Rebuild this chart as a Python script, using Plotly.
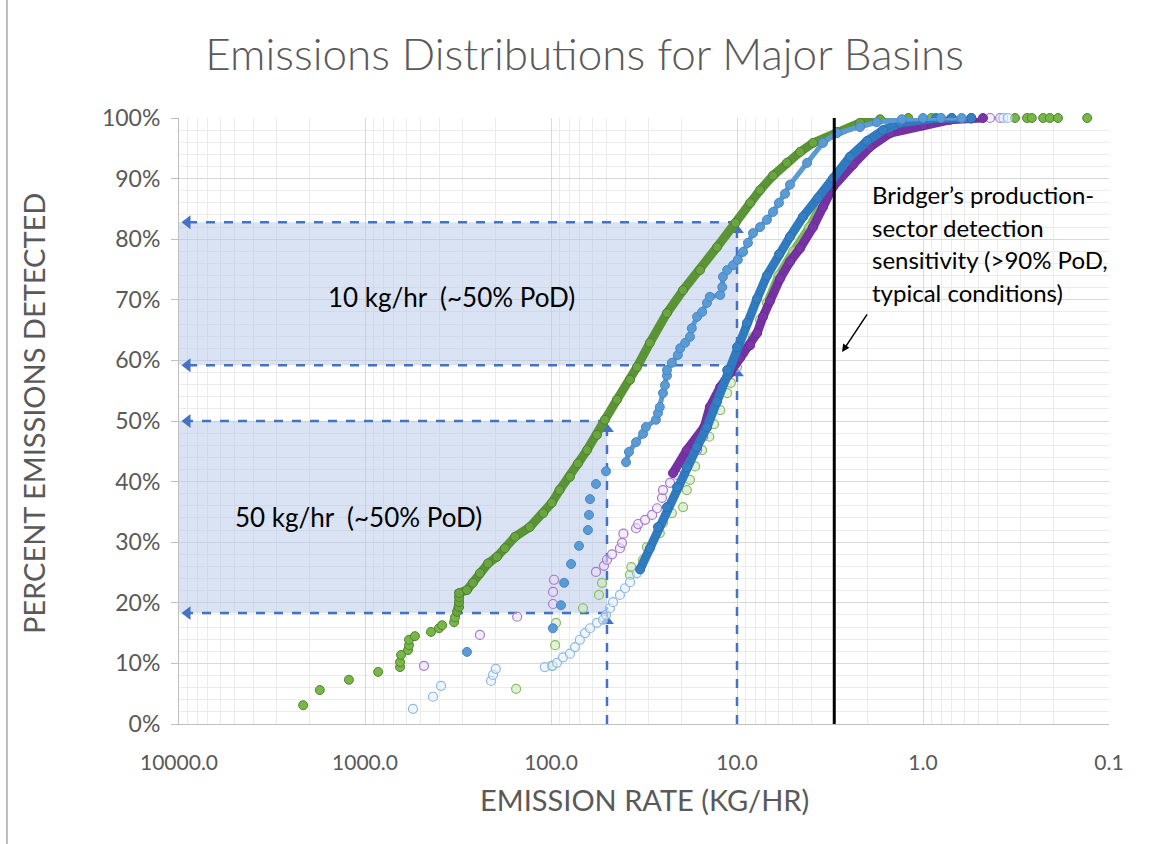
import plotly.graph_objects as go

# ---------------- data (kg/hr, percent detected) ----------------
# green (filled) basin
green_sparse_x = [2150, 1750, 1220, 850, 648, 648, 640, 587, 580, 580, 539, 442, 400, 385, 332, 328]
green_sparse_y = [3.1, 5.6, 7.3, 8.6, 9.4, 10.2, 11.4, 12.2, 13.0, 13.9, 14.5, 15.2, 15.8, 16.3, 16.8, 17.6]
green_dense_x = [320, 312, 312, 312, 312, 283, 263, 241, 218, 195, 177, 156, 130, 110, 99, 90, 79, 71.6, 64,
                 56.6, 51.3, 44.2, 37.6, 34.5, 29.4, 23.8, 19.5, 15.8, 12.8, 10.2, 8.5, 7.52, 6.4, 5.39, 4.58,
                 3.9, 2.9, 2.18, 1.7, 1.2]
green_dense_y = [18.5, 19.3, 20.1, 20.9, 21.6, 22.1, 23.3, 24.9, 26.5, 27.6, 29.0, 30.9, 32.5, 34.8, 36.5, 38.6,
                 40.8, 43.0, 45.2, 47.7, 50.2, 53.5, 56.8, 58.9, 62.9, 67.8, 71.6, 74.9, 78.7, 82.7, 86.0, 88.1,
                 90.5, 92.6, 94.4, 95.9, 97.7, 99.2, 99.8, 100]
green_top_x = [0.9, 0.7, 0.55, 0.32, 0.276, 0.26, 0.226, 0.208, 0.188, 0.131]
green_top_y = [100, 100, 100, 100, 100, 100, 100, 100, 100, 100]

# light green (hollow) basin
lgreen_x = [154, 99, 95, 94, 67.3, 55.2, 53.2, 37.6, 37, 32, 30.5, 26, 25, 22.4, 19.5, 18.6, 17.9, 16.8, 15.4,
            14.1, 13.3, 12.3, 11.3, 10.8, 10, 9.28, 8.2, 7.52, 6.9]
lgreen_y = [5.8, 9.6, 13.0, 16.7, 19.1, 21.3, 23.3, 24.6, 25.9, 27.1, 29.2, 31.5, 33.2, 34.8, 35.8, 38.6, 40.3,
            42.5, 45.2, 47.4, 49.5, 51.8, 54.6, 56.3, 58.9, 61.2, 63.9, 66.7, 69.5]
lgreen_up_x = [6.9, 6.0, 5.0, 4.1, 3.5, 3.1, 2.5, 2.0, 1.55, 1.1, 0.8]
lgreen_up_y = [69.5, 74.0, 78.0, 82.0, 86.0, 89.0, 92.5, 95.0, 97.5, 99.0, 100]

# medium blue (filled) basin
blue_sparse_x = [283, 97.7, 88.4, 85, 78, 70.7, 63.3, 62.5, 61.7, 57.3, 50.6]
blue_sparse_y = [11.9, 15.8, 19.6, 23.3, 26.4, 29.4, 32.0, 34.5, 37.1, 39.6, 41.7]
blue_dense_x = [39.5, 38.1, 34.9, 32, 30.9, 27.3, 26.6, 26, 25, 24.4, 23.8, 23.8, 22.4, 20.8, 20.2, 19, 17.9,
                17.5, 16.4, 15.4, 14.5, 14, 12.3, 12, 11.9, 11.3, 10.5, 9.9, 9.28, 8.73, 8.2, 7.52, 6.9, 6.4,
                5.95, 5.52, 5.19, 4.2, 3.45, 2.9, 2.18, 1.77, 1.3, 1.0, 0.8, 0.62]
blue_dense_y = [43.2, 44.9, 46.5, 47.9, 49.0, 50.2, 51.3, 52.3, 54.6, 55.9, 57.5, 58.4, 59.6, 60.9, 62.0, 62.9,
                63.9, 65.3, 67.2, 68.0, 69.5, 70.5, 70.8, 72.1, 73.8, 74.9, 75.7, 76.6, 77.9, 79.4, 81.0, 82.0,
                83.2, 84.5, 86.0, 87.5, 89.0, 92.6, 95.9, 97.5, 98.5, 99.3, 99.8, 100, 100, 100]

# light blue (hollow) basin
lblue_x = [552, 431, 390, 210, 205, 198, 108, 98, 92.8, 86.2, 79, 74.3, 70, 65.6, 61.7, 56.6, 52.5, 50.6, 48.2,
           46.4, 42.6, 40, 37.6, 34.5, 0.37, 0.35]
lblue_y = [2.5, 4.5, 6.3, 7.1, 8.1, 9.1, 9.4, 9.6, 10.1, 11.0, 11.6, 12.7, 13.9, 15.0, 15.8, 16.7, 17.2, 18.0,
           19.1, 20.1, 21.3, 22.4, 23.4, 24.9, 100, 100]

# dark blue (filled) basin
dblue_x = [33.2, 29.4, 26.6, 23.8, 21, 18.6, 16.4, 14.5, 12.8, 11.3, 10, 8.84, 7.8, 6.9, 5.95, 5.19, 4.42, 3.67,
           3.05, 2.47, 2.0, 1.64, 1.33, 1.0, 0.85, 0.7, 0.55]
dblue_y = [25.5, 29.0, 32.5, 35.8, 39.1, 42.4, 45.7, 49.0, 53.2, 58.4, 62.2, 66.2, 70.2, 74.0, 77.5, 80.4, 83.7,
           86.8, 90.0, 93.6, 96.2, 98.0, 99.2, 99.8, 100, 100, 100]

# light purple (hollow) basin
lpurple_x = [482, 241, 152, 97.5, 97.5, 96.3, 57.3, 51.9, 50, 47, 42.6, 41.5, 40.8, 34.9, 34, 31.2, 28.6, 26.9,
             25.3, 25, 22.9, 21, 19.5, 17.9, 16.4, 15.2, 14.5, 0.436, 0.385]
lpurple_y = [9.6, 14.7, 17.7, 19.8, 21.8, 23.8, 25.1, 26.1, 27.1, 28.0, 29.0, 29.9, 31.4, 32.3, 33.0, 33.7, 34.5,
             35.6, 37.3, 38.6, 39.8, 41.1, 42.2, 43.6, 45.2, 47.4, 49.0, 100, 100]

# dark purple (filled) basin
purple_x = [22.1, 18.6, 15.0, 14, 12.3, 10.9, 9.64, 8.5, 7.8, 7.25, 6.65, 5.87, 5.19, 4.58, 3.9, 3.45, 3.05,
            2.38, 1.93, 1.5, 1.0, 0.716, 0.55, 0.476]
purple_y = [41.4, 45.2, 49.0, 52.3, 55.6, 57.9, 60.4, 62.5, 64.5, 67.2, 69.8, 73.5, 76.3, 78.5, 82.0, 85.3, 88.6,
            92.3, 95.2, 97.5, 98.8, 99.7, 99.9, 100]

# reference thresholds
thr_10 = 10.0
thr_50 = 50.0
pod_10 = [59.2, 82.8]
pod_50 = [18.3, 50.0]
axis_left = 10000.0
arrow_left = 9000.0
bridger_rate = 3.0

x_tick_vals = [10000, 1000, 100, 10, 1, 0.1]
x_tick_text = ["10000.0", "1000.0", "100.0", "10.0", "1.0", "0.1"]
y_tick_vals = [0, 10, 20, 30, 40, 50, 60, 70, 80, 90, 100]
y_tick_text = ["0%", "10%", "20%", "30%", "40%", "50%", "60%", "70%", "80%", "90%", "100%"]

DASH = "#4472C4"
SHADE = "rgba(180,199,231,0.5)"
GRAY = "#595959"
FONT = "Lato"
MS = 9

fig = go.Figure()

# shaded bands
for thr, (lo, hi) in ((thr_10, pod_10), (thr_50, pod_50)):
    fig.add_trace(go.Scatter(x=[axis_left, thr, thr, axis_left, axis_left], y=[lo, lo, hi, hi, lo],
                             fill="toself", fillcolor=SHADE, mode="none", hoverinfo="skip"))

# dashed guide lines with arrowheads
for thr, (lo, hi) in ((thr_10, pod_10), (thr_50, pod_50)):
    for yv in (lo, hi):
        fig.add_trace(go.Scatter(x=[thr, arrow_left], y=[yv, yv], mode="lines",
                                 line=dict(color=DASH, width=2.5, dash="dash"), hoverinfo="skip"))
    fig.add_trace(go.Scatter(x=[thr, thr], y=[0, hi], mode="lines",
                             line=dict(color=DASH, width=2.5, dash="dash"), hoverinfo="skip"))
    fig.add_trace(go.Scatter(x=[arrow_left, arrow_left], y=[lo, hi], mode="markers",
                             marker=dict(symbol="triangle-left", size=12, color=DASH), hoverinfo="skip"))
    fig.add_trace(go.Scatter(x=[thr, thr], y=[lo - 1.3, hi - 1.3], mode="markers",
                             marker=dict(symbol="triangle-up", size=12, color=DASH), hoverinfo="skip"))


def pts(x, y, fill, edge, lw=1.0):
    fig.add_trace(go.Scatter(x=x, y=y, mode="markers", cliponaxis=False,
                             marker=dict(size=MS, color=fill, line=dict(color=edge, width=lw))))


def band(x, y, fill, edge, linecol, width):
    fig.add_trace(go.Scatter(x=x, y=y, mode="lines+markers", cliponaxis=False,
                             line=dict(color=linecol, width=width, shape="linear"),
                             marker=dict(size=MS, color=fill, line=dict(color=edge, width=1))))


# green filled
pts(green_sparse_x, green_sparse_y, "#76B745", "#548235")
band(green_dense_x, green_dense_y, "#6AA640", "#4F8030", "#5B9337", 9)
pts(green_top_x, green_top_y, "#76B745", "#548235")
# light green hollow
band(lgreen_up_x, lgreen_up_y, "rgba(197,224,180,0.6)", "#7FB85A", "#7DB956", 8)
pts(lgreen_x, lgreen_y, "rgba(205,228,190,0.55)", "#86BE60", 1.2)
# light purple hollow
pts(lpurple_x, lpurple_y, "rgba(235,222,245,0.55)", "#A778CC", 1.2)
# light blue hollow
pts(lblue_x, lblue_y, "rgba(230,240,250,0.6)", "#8DB9E3", 1.2)
# dark purple filled
band(purple_x, purple_y, "#7A36A8", "#6A2C96", "#7331A2", 9)
# dark blue filled
band(dblue_x, dblue_y, "#3580C4", "#2E6FAD", "#307AC0", 9)
# medium blue filled
pts(blue_sparse_x, blue_sparse_y, "#5B9BD5", "#4A88C6")
band(blue_dense_x, blue_dense_y, "#5B9BD5", "#4A88C6", "#5B9BD5", 5)

# Bridger sensitivity line
fig.add_trace(go.Scatter(x=[bridger_rate, bridger_rate], y=[0, 100], mode="lines",
                         line=dict(color="black", width=3), hoverinfo="skip"))

# annotations
ann = []
bridger_lines = ["Bridger’s production-", "sector detection", "sensitivity (>90% PoD,", "typical conditions)"]
for i, t in enumerate(bridger_lines):
    ann.append(dict(text=t, xref="paper", yref="paper", x=0.743, y=0.873 - i * 0.0535,
                    xanchor="left", yanchor="middle", showarrow=False,
                    font=dict(family=FONT, size=24, color="black")))
ann.append(dict(text="10 kg/hr\u00a0\u00a0(~50% PoD)", xref="paper", yref="paper", x=0.2935, y=0.7046,
                xanchor="center", yanchor="middle", showarrow=False,
                font=dict(family=FONT, size=26, color="black")))
ann.append(dict(text="50 kg/hr\u00a0\u00a0(~50% PoD)", xref="paper", yref="paper", x=0.1935, y=0.3416,
                xanchor="center", yanchor="middle", showarrow=False,
                font=dict(family=FONT, size=26, color="black")))
ann.append(dict(text="", xref="paper", yref="paper", x=0.713, y=0.614, ax=26, ay=-39,
                showarrow=True, arrowhead=2, arrowsize=1, arrowwidth=1.5, arrowcolor="black"))
ann.append(dict(text="PERCENT EMISSIONS DETECTED", xref="paper", yref="paper", x=-0.157, y=0.513,
                textangle=-90, showarrow=False, xanchor="center", yanchor="middle",
                font=dict(family=FONT, size=29, color=GRAY)))
ann.append(dict(text="EMISSION RATE (KG/HR)", xref="paper", yref="paper", x=0.501, y=-0.125,
                showarrow=False, xanchor="center", yanchor="middle",
                font=dict(family=FONT, size=29, color=GRAY)))

fig.update_layout(
    width=1153, height=844,
    margin=dict(l=179, r=44, t=118, b=120),
    paper_bgcolor="white", plot_bgcolor="white",
    showlegend=False,
    title=dict(text="Emissions Distributions for Major Basins", x=0.507, y=0.935,
               xanchor="center", yanchor="middle",
               font=dict(family=FONT, size=44, color=GRAY, weight=300)),
    annotations=ann,
    shapes=[dict(type="line", xref="paper", yref="paper", x0=-0.185, x1=-0.185, y0=-0.2, y1=1.2,
                 line=dict(color="#A6A6A6", width=1.5))],
)
fig.update_xaxes(type="log", range=[4, -1], tickmode="array", tickvals=x_tick_vals, ticktext=x_tick_text,
                 showgrid=True, gridcolor="#D9D9D9", gridwidth=1,
                 minor=dict(dtick="D1", showgrid=True, gridcolor="#EBEBEB", gridwidth=1),
                 showline=True, linecolor="#BFBFBF", linewidth=1, ticks="", zeroline=False,
                 tickfont=dict(family=FONT, size=21, color=GRAY), ticklabelstandoff=20)
fig.update_yaxes(range=[0, 100], tickmode="array", tickvals=y_tick_vals, ticktext=y_tick_text,
                 showgrid=True, gridcolor="#D9D9D9", gridwidth=1,
                 minor=dict(dtick=2, showgrid=True, gridcolor="#EBEBEB", gridwidth=1),
                 showline=True, linecolor="#BFBFBF", linewidth=1, ticks="outside", ticklen=7,
                 tickcolor="#BFBFBF", zeroline=False,
                 tickfont=dict(family=FONT, size=23, color=GRAY), ticklabelstandoff=6)

fig.write_html("out.html", config={"displayModeBar": False},
               post_script="document.body.style.margin='0';")
